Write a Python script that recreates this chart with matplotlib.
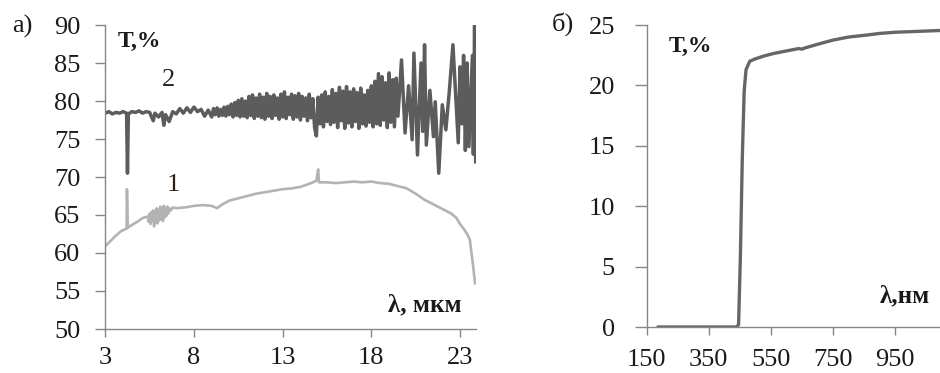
import numpy as np
import matplotlib.pyplot as plt

# --- IR transmission (a) ---
# curve 1
x1 = [3.0, 3.3, 3.6, 3.9, 4.2, 4.22, 4.27, 4.5, 4.8, 5.1, 5.4, 5.45, 5.5, 5.55, 5.6,
      5.65, 5.7, 5.75, 5.8, 5.85, 5.9, 5.95, 6.0, 6.05, 6.1, 6.15, 6.2, 6.25, 6.3,
      6.35, 6.4, 6.45, 6.5, 6.55, 6.6, 6.7, 6.8, 7.0, 7.5, 8.0, 8.5, 9.0, 9.3,
      9.6, 10.0, 10.5, 11.0, 11.5, 12.0, 12.5, 13.0, 13.5, 14.0, 14.5, 14.9, 15.0,
      15.05, 15.5, 16.0, 16.5, 17.0, 17.5, 18.0, 18.5, 19.0, 19.5, 20.0, 20.5,
      21.0, 21.5, 22.0, 22.5, 22.8, 23.0, 23.2, 23.4, 23.55, 23.7, 23.85]
t1 = [60.9, 61.6, 62.3, 62.9, 63.2, 68.4, 63.3, 63.7, 64.1, 64.6, 64.8, 64.1, 65.2, 63.8, 65.4,
      64.2, 65.6, 63.5, 65.5, 64.0, 65.9, 63.9, 65.7, 64.3, 66.1, 64.5, 65.8, 64.2, 66.2,
      64.7, 65.9, 64.9, 66.1, 65.2, 65.9, 65.6, 66.0, 65.9, 66.0, 66.2, 66.3, 66.2, 65.9,
      66.4, 66.9, 67.2, 67.5, 67.8, 68.0, 68.2, 68.4, 68.5, 68.7, 69.1, 69.5, 71.0,
      69.3, 69.3, 69.2, 69.3, 69.4, 69.3, 69.4, 69.2, 69.1, 68.8, 68.5, 67.8,
      67.0, 66.4, 65.8, 65.2, 64.6, 63.8, 63.2, 62.5, 61.8, 59.0, 56.0]

# curve 2
x2 = [3.0, 3.2, 3.4, 3.6, 3.8, 4.0, 4.2, 4.25, 4.3, 4.5, 4.7, 4.9, 5.1, 5.3, 5.5,
      5.7, 5.8, 6.0, 6.2, 6.3, 6.4, 6.6, 6.8, 7.0, 7.2, 7.4, 7.6, 7.8, 8.0, 8.2,
      8.4, 8.6, 8.8,
      9.0, 9.1, 9.2, 9.3, 9.4, 9.5, 9.6, 9.7, 9.8, 9.9,
      10.0, 10.1, 10.2, 10.3, 10.4, 10.5, 10.6, 10.7, 10.8, 10.9,
      11.0, 11.1, 11.2, 11.3, 11.4, 11.5, 11.6, 11.7, 11.8, 11.9,
      12.0, 12.1, 12.2, 12.3, 12.4, 12.5, 12.6, 12.7, 12.8, 12.9,
      13.0, 13.1, 13.2, 13.3, 13.4, 13.5, 13.6, 13.7, 13.8, 13.9,
      14.0, 14.1, 14.2, 14.3, 14.4, 14.5, 14.6, 14.7, 14.8, 14.9,
      15.0, 15.1, 15.2, 15.3, 15.4, 15.5, 15.6, 15.7, 15.8, 15.9,
      16.0, 16.1, 16.2, 16.3, 16.4, 16.5, 16.6, 16.7, 16.8, 16.9,
      17.0, 17.1, 17.2, 17.3, 17.4, 17.5, 17.6, 17.7, 17.8, 17.9,
      18.0, 18.1, 18.2, 18.3, 18.4, 18.5, 18.6, 18.7, 18.8, 18.9,
      19.0, 19.1, 19.2, 19.3, 19.4, 19.5,
      19.7, 19.9, 20.1, 20.3, 20.4, 20.6, 20.8, 20.9,
      21.0, 21.1, 21.3, 21.5, 21.6, 21.8, 22.0, 22.2, 22.4, 22.6, 22.9, 23.0, 23.1,
      23.2, 23.3, 23.4, 23.5, 23.6, 23.7, 23.75, 23.82, 23.88]
t2 = [78.4, 78.6, 78.3, 78.5, 78.4, 78.6, 78.4, 70.5, 78.3, 78.6, 78.5, 78.7, 78.4, 78.6, 78.5,
      77.4, 78.4, 77.9, 78.5, 76.8, 78.2, 77.3, 78.6, 78.3, 79.0, 78.4, 79.1, 78.5, 79.2, 78.6,
      78.9, 78.0, 78.8,
      77.9, 79.0, 78.2, 79.1, 78.0, 78.9, 78.1, 79.2, 78.0, 79.3,
      78.2, 79.6, 77.9, 79.8, 78.1, 80.1, 77.9, 80.3, 78.0, 80.0,
      77.8, 80.6, 78.1, 80.8, 77.7, 80.4, 78.0, 80.9, 77.8, 80.5,
      77.6, 81.0, 78.0, 80.6, 77.7, 80.8, 78.1, 80.4, 77.6, 80.9,
      77.9, 81.2, 77.7, 80.5, 78.2, 80.9, 77.6, 80.7, 77.9, 81.0,
      77.5, 80.6, 78.0, 80.4, 77.4, 80.9, 77.8, 80.3, 76.5, 75.4,
      80.5, 77.0, 80.8, 76.6, 81.2, 77.3, 80.6, 76.9, 81.5, 77.2,
      81.0, 76.5, 81.8, 77.4, 81.3, 76.4, 81.9, 77.1, 81.2, 76.6,
      81.6, 77.3, 81.1, 76.4, 81.7, 77.0, 80.8, 76.7, 81.4, 77.2,
      82.0, 76.6, 82.6, 77.0, 83.6, 76.8, 83.2, 77.5, 82.4, 76.5,
      83.7, 77.2, 82.8, 76.6, 83.0, 78.0,
      85.4, 75.8, 82.0, 74.9, 86.3, 72.9, 85.0, 76.0,
      87.4, 74.2, 81.4, 75.3, 79.9, 70.5, 79.5, 76.2, 81.4, 87.4, 74.5, 84.5, 77.0,
      86.0, 73.5, 85.0, 74.0, 80.0, 86.0, 73.0, 90.0, 72.0]

xticks_a = [3, 8, 13, 18, 23]
yticks_a = [50, 55, 60, 65, 70, 75, 80, 85, 90]

# --- UV-Vis transmission (b) ---
wl = [186, 300, 440, 446, 452, 458, 464, 470, 482, 500, 530, 560, 600, 640, 650,
      660, 700, 750, 800, 860, 900, 950, 1000, 1050, 1100]
t3 = [0.0, 0.0, 0.0, 0.2, 6.0, 14.0, 19.5, 21.3, 22.0, 22.2, 22.45, 22.65, 22.85, 23.05, 23.0,
      23.1, 23.4, 23.75, 24.0, 24.17, 24.3, 24.4, 24.45, 24.5, 24.55]

xticks_b = [150, 350, 550, 750, 950]
yticks_b = [0, 5, 10, 15, 20, 25]

W, H = 940, 373
plt.rcParams['font.family'] = ['Liberation Serif', 'DejaVu Serif']
fig = plt.figure(figsize=(W / 100, H / 100), dpi=100)

def px(x, y):
    return x / W, 1 - y / H

def style(ax):
    for s in ('top', 'right'):
        ax.spines[s].set_visible(False)
    for s in ('left', 'bottom'):
        ax.spines[s].set_color('#8a8580')
        ax.spines[s].set_linewidth(1.0)
    ax.tick_params(axis='both', colors='#8a8580', labelcolor='#1a1a1a',
                   labelsize=19, width=1.0)
    ax.tick_params(axis='y', length=7, pad=11)
    ax.tick_params(axis='x', length=6, pad=7)

ax1 = fig.add_axes([105.3 / W, 1 - 329 / H, (476 - 105.3) / W, (329 - 25) / H])
ax1.plot(x1, t1, color='#b3b3b3', lw=1.9)
ax1.plot(x2, t2, color='#5c5c5c', lw=2.5)
ax1.set_xlim(3, 23.9)
ax1.set_ylim(50, 90)
ax1.set_xticks(xticks_a)
ax1.set_yticks(yticks_a)
style(ax1)

ax2 = fig.add_axes([646.7 / W, 1 - 327 / H, (940 - 646.7) / W, (327 - 25) / H])
ax2.plot(wl, t3, color='#666666', lw=2.4, solid_capstyle='round')
ax2.set_xlim(150, 1095)
ax2.set_ylim(0, 25)
ax2.set_xticks(xticks_b)
ax2.set_yticks(yticks_b)
style(ax2)
ax2.tick_params(axis='y', length=9, pad=14)
ax2.tick_params(axis='x', pad=10)

# panel letters and axis captions
fig.text(*px(12, 33), 'а)', fontsize=19, color='#1a1a1a')
fig.text(*px(552, 31), 'б)', fontsize=19, color='#1a1a1a')
fig.text(*px(118, 47), 'T,%', fontsize=17, fontweight='bold', color='#1a1a1a')
fig.text(*px(669, 52), 'T,%', fontsize=17, fontweight='bold', color='#1a1a1a')
fig.text(*px(388, 311), 'λ, мкм', fontsize=18, fontweight='bold', color='#1a1a1a')
fig.text(*px(880, 302), 'λ,нм', fontsize=18, fontweight='bold', color='#1a1a1a')
fig.text(*px(162, 86), '2', fontsize=19, color='#2a2218')
fig.text(*px(167, 191), '1', fontsize=19, color='#2a2218')

fig.savefig('out.png', dpi=100, facecolor='white')
